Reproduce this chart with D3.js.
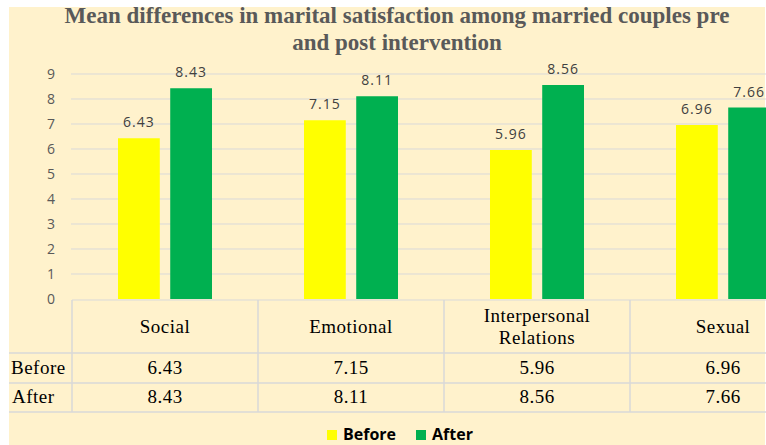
<!DOCTYPE html>
<html>
<head>
<meta charset="utf-8">
<script src="https://d3js.org/d3.v7.min.js"></script>
<style>
  body { margin: 0; background: #fff; }
  .tick-label { font-family: "Open Sans", sans-serif; font-size: 14px; fill: #595959; }
  .data-label { font-family: "Open Sans", sans-serif; font-size: 14px; fill: #404040; letter-spacing: 1px; }
  .cell { font-family: "Liberation Serif", "Times New Roman", serif; font-size: 19px; fill: #000; letter-spacing: 0.5px; }
  .legend { font-family: "Open Sans", sans-serif; font-size: 16px; font-weight: bold; fill: #000; }
</style>
</head>
<body>
<svg width="766" height="445"></svg>
<script>
// data
var categories = ["Social", "Emotional", "Interpersonal Relations", "Sexual"];
var before = [6.43, 7.15, 5.96, 6.96];
var after = [8.43, 8.11, 8.56, 7.66];
var seriesNames = ["Before", "After"];
var seriesColors = ["#FFFF00", "#00B050"];
var yTicks = [0, 1, 2, 3, 4, 5, 6, 7, 8, 9];
var titleLines = ["Mean differences in marital satisfaction among married couples pre", "and post intervention"];

var svg = d3.select("svg");

// background
svg.append("rect").attr("x", 9).attr("y", 7).attr("width", 756).attr("height", 438).attr("fill", "#FFF2CC");

// title
svg.append("g").selectAll("text")
  .data(titleLines)
  .enter().append("text")
  .attr("x", 397)
  .attr("y", function (d, i) { return 23 + i * 27; })
  .attr("text-anchor", "middle")
  .style("font-family", "'Liberation Serif', serif")
  .style("font-weight", "bold")
  .style("font-size", "23px")
  .style("fill", "#595959")
  .text(function (d) { return d; });

var left = 72, bandW = 186;
var x0 = d3.scaleBand()
  .domain(categories)
  .range([left, left + bandW * categories.length])
  .padding(0);

var x1 = d3.scaleBand()
  .domain(seriesNames)
  .range([46, 140])
  .paddingInner(0.2);

var y = d3.scaleLinear()
  .domain([0, 9])
  .range([299, 74]);

var plot = svg.append("g");

// gridlines
plot.selectAll(".grid")
  .data(yTicks.slice(1))
  .enter().append("line")
  .attr("x1", left - 1).attr("x2", 766)
  .attr("y1", function (d) { return y(d); })
  .attr("y2", function (d) { return y(d); })
  .attr("stroke", "#D9D9D9")
  .attr("stroke-width", 1);

// y tick labels
plot.selectAll(".tick-label")
  .data(yTicks)
  .enter().append("text")
  .attr("class", "tick-label")
  .attr("x", 55)
  .attr("y", function (d) { return y(d) + 5; })
  .attr("text-anchor", "end")
  .text(function (d) { return d; });

var rows = categories.map(function (c, i) {
  return { cat: c, values: [before[i], after[i]] };
});

var groups = plot.selectAll(".grp")
  .data(rows)
  .enter().append("g")
  .attr("transform", function (d) { return "translate(" + x0(d.cat) + ",0)"; });

groups.selectAll("rect")
  .data(function (d) { return d.values.map(function (v, j) { return { s: seriesNames[j], v: v, j: j }; }); })
  .enter().append("rect")
  .attr("x", function (d) { return x1(d.s); })
  .attr("y", function (d) { return y(d.v); })
  .attr("width", x1.bandwidth())
  .attr("height", function (d) { return y(0) - y(d.v); })
  .attr("fill", function (d) { return seriesColors[d.j]; });

groups.selectAll(".data-label")
  .data(function (d) { return d.values.map(function (v, j) { return { s: seriesNames[j], v: v }; }); })
  .enter().append("text")
  .attr("class", "data-label")
  .attr("x", function (d) { return x1(d.s) + x1.bandwidth() / 2; })
  .attr("y", function (d) { return y(d.v) - 11; })
  .attr("text-anchor", "middle")
  .text(function (d) { return d3.format(".2f")(d.v); });

// data table
var tbl = svg.append("g");
var rowTop = 300, headerBottom = 353, row1Bottom = 383, row2Bottom = 412;
var lineColor = "#D9D9D9";
var right = 766;

tbl.append("line").attr("x1", left).attr("x2", right).attr("y1", rowTop).attr("y2", rowTop).attr("stroke", lineColor);
[headerBottom, row1Bottom, row2Bottom].forEach(function (yy) {
  tbl.append("line").attr("x1", 9).attr("x2", right).attr("y1", yy).attr("y2", yy).attr("stroke", lineColor).attr("stroke-width", 1.5);
});
tbl.selectAll(".vline")
  .data(categories)
  .enter().append("line")
  .attr("x1", function (d) { return x0(d); })
  .attr("x2", function (d) { return x0(d); })
  .attr("y1", rowTop).attr("y2", row2Bottom)
  .attr("stroke", lineColor).attr("stroke-width", 1.5);

// header
tbl.selectAll(".hdr")
  .data(categories)
  .enter().append("text")
  .attr("class", "cell")
  .attr("text-anchor", "middle")
  .each(function (d) {
    var lines = d.length > 12 ? d.split(" ") : [d];
    var t = d3.select(this);
    var cx = x0(d) + bandW / 2;
    var startY = 333 - (lines.length - 1) * 11;
    lines.forEach(function (l, k) {
      t.append("tspan").attr("x", cx).attr("y", startY + k * 22).text(l);
    });
  });

[before, after].forEach(function (vals, r) {
  var yy = [374, 403][r];
  tbl.append("text").attr("class", "cell").attr("x", 11 + r * 1).attr("y", yy).attr("letter-spacing", "0px").text(seriesNames[r]);
  tbl.selectAll(".val" + r)
    .data(vals)
    .enter().append("text")
    .attr("class", "cell")
    .attr("text-anchor", "middle")
    .attr("x", function (d, i) { return x0(categories[i]) + bandW / 2; })
    .attr("y", yy)
    .text(function (d) { return d3.format(".2f")(d); });
});

// legend
var legendX = [327, 416];
var lg = svg.append("g");
seriesNames.forEach(function (s, i) {
  lg.append("rect").attr("x", legendX[i]).attr("y", 430).attr("width", 10).attr("height", 10).attr("fill", seriesColors[i]);
  lg.append("text").attr("class", "legend").attr("x", legendX[i] + 16).attr("y", 440).text(s);
});
</script>
</body>
</html>
